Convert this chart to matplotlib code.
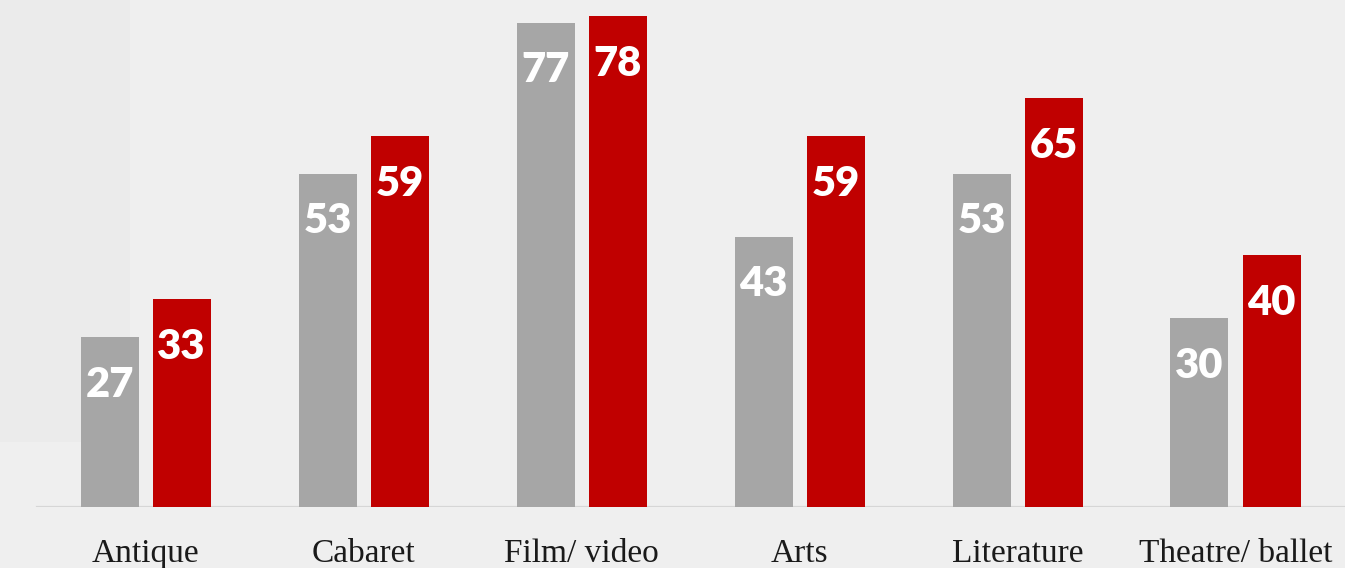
import matplotlib

matplotlib.use("Agg")

import matplotlib.pyplot as plt
from matplotlib.patches import Rectangle
import numpy as np

categories = ["Antique", "Cabaret", "Film/ video", "Arts", "Literature", "Theatre/ ballet"]
series_grey = [27, 53, 77, 43, 53, 30]
series_red = [33, 59, 78, 59, 65, 40]

GREY = "#a6a6a6"
RED = "#c00000"
BG = "#efefef"

W, H = 1345, 568
fig = plt.figure(figsize=(W / 100, H / 100), dpi=100)
fig.patch.set_facecolor(BG)
fig.patches.append(Rectangle((0, 1 - 442 / H), 130 / W, 442 / H,
                             transform=fig.transFigure, facecolor="#ebebeb",
                             edgecolor="none", zorder=-5))

base_px = 507
ax = fig.add_axes([0, (H - base_px) / H, 1, base_px / H])
ax.set_facecolor("none")

px_per_group = 218
first_center = 145.5
ax.set_xlim(-first_center / px_per_group, (W - first_center) / px_per_group)
px_per_unit = 6.29
ax.set_ylim(0, base_px / px_per_unit)

x = np.arange(len(categories))
bar_w = 58 / px_per_group
off = 36 / px_per_group
ax.bar(x - off, series_grey, width=bar_w, color=GREY, zorder=2)
ax.bar(x + off, series_red, width=bar_w, color=RED, zorder=2)

num_font = dict(family=["Lato", "DejaVu Sans"], weight="heavy", fontsize=30, color="white")
for xi, v in zip(x - off, series_grey):
    ax.annotate(str(v), (xi, v), xytext=(0, -43), textcoords="offset points",
                ha="center", va="baseline", zorder=3, **num_font)
for xi, v in zip(x + off, series_red):
    ax.annotate(str(v), (xi, v), xytext=(0, -43), textcoords="offset points",
                ha="center", va="baseline", zorder=3, **num_font)

ax.axhline(0, xmin=37 / W, xmax=1, color="#d6d6d6", linewidth=1.6, zorder=1)

for xi, label in zip(x, categories):
    ax.annotate(label, (xi, 0), xytext=(0, -55 * 72 / 100), textcoords="offset points",
                ha="center", va="baseline", family=["Liberation Serif", "DejaVu Serif"],
                fontsize=24, color="#1a1a1a", annotation_clip=False)

for side in ax.spines.values():
    side.set_visible(False)
ax.set_xticks([])
ax.set_yticks([])

fig.savefig("out.png", dpi=100, facecolor=BG)
